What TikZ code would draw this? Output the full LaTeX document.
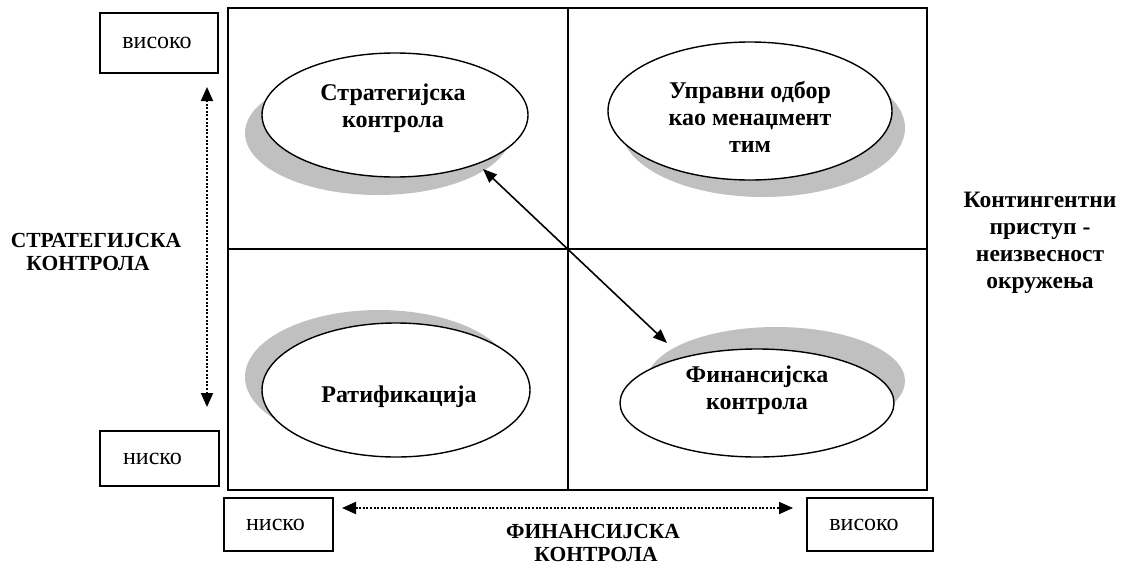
\documentclass[tikz,border=0pt]{standalone}
\usepackage{fontspec}
\setmainfont{Liberation Serif}
\usetikzlibrary{shapes.geometric,arrows.meta}
\definecolor{shadowgray}{HTML}{C0C0C0}
\tikzset{
  oval/.style={ellipse,draw=black,fill=white,line width=1.4pt,inner sep=0pt},
  otext/.style={align=center,font=\fontsize{24}{27}\selectfont\bfseries,inner sep=0pt},
  rtext/.style={align=center,font=\fontsize{23.5}{27}\selectfont\bfseries,inner sep=0pt},
  smallbox/.style={draw=black,line width=1.4pt,inner sep=0pt,font=\fontsize{24}{26}\selectfont},
  caplabel/.style={align=center,font=\fontsize{21.5}{23}\selectfont\bfseries,inner sep=0pt},
  dotarrow/.style={line width=2pt,dash pattern=on 2pt off 1.6pt,{Triangle[length=14pt,width=12pt]}-{Triangle[length=14pt,width=12pt]}},
  linkarrow/.style={line width=1.6pt,{Triangle[length=14pt,width=11pt]}-{Triangle[length=14pt,width=11pt]}}
}
\begin{document}
\begin{tikzpicture}[x=1pt,y=-1pt]
\useasboundingbox (0,0) rectangle (1126,565);
% shadows
\fill[shadowgray] (378,133) ellipse [x radius=133, y radius=62];
\fill[shadowgray] (763,128) ellipse [x radius=142, y radius=69];
\fill[shadowgray] (379,377) ellipse [x radius=134, y radius=67];
\fill[shadowgray] (776,381) ellipse [x radius=129, y radius=54];
% grid
\draw[line width=2pt] (228,8) rectangle (927,490);
\draw[line width=2pt] (568,8) -- (568,490);
\draw[line width=2pt] (228,249) -- (927,249);
% ellipses
\node[oval,minimum width=266pt,minimum height=124pt] (strat) at (395,115) {};
\node[otext] (strattext) at (393,108) {Стратегијска\\контрола};
\node[oval,minimum width=284pt,minimum height=138pt] (board) at (750,111) {};
\node[otext] (boardtext) at (750,117) {Управни одбор\\као менаџмент\\тим};
\node[oval,minimum width=268pt,minimum height=134pt] (rat) at (396,390) {};
\node[otext] (rattext) at (399,397) {Ратификација};
\node[oval,minimum width=274pt,minimum height=108pt] (fin) at (757,403) {};
\node[otext] (fintext) at (757,390) {Финансијска\\контрола};
% link arrow
\coordinate (a1) at (483,169);
\coordinate (a2) at (667,343);
\draw[linkarrow] (a1) -- (a2);
% small boxes
\node[smallbox,minimum width=118pt,minimum height=60pt] (vhigh) at (159,43) {\hspace*{-4pt}високо};
\node[smallbox,minimum width=119pt,minimum height=55pt] (vlow) at (159.5,458.5) {\hspace*{-14pt}ниско};
\node[smallbox,minimum width=109pt,minimum height=53pt] (hlow) at (278.5,524.5) {\hspace*{-6pt}ниско};
\node[smallbox,minimum width=126pt,minimum height=53pt] (hhigh) at (870,524.5) {\hspace*{-12pt}високо};
% dotted arrows
\coordinate (vt) at (207,87);
\coordinate (vb) at (207,407);
\draw[dotarrow] (vb) -- (vt);
\coordinate (hl) at (342,508);
\coordinate (hr) at (793,508);
\draw[dotarrow] (hl) -- (hr);
% labels
\node[caplabel] (ylabel) at (96,252) {СТРАТЕГИЈСКА\\\hspace*{-16pt}КОНТРОЛА};
\node[caplabel] (xlabel) at (593,543) {ФИНАНСИЈСКА\\\hspace*{6pt}КОНТРОЛА};
\node[rtext] (context) at (1040,243) {Контингентни\\приступ -\\неизвесност\\окружења};
\end{tikzpicture}
\end{document}
